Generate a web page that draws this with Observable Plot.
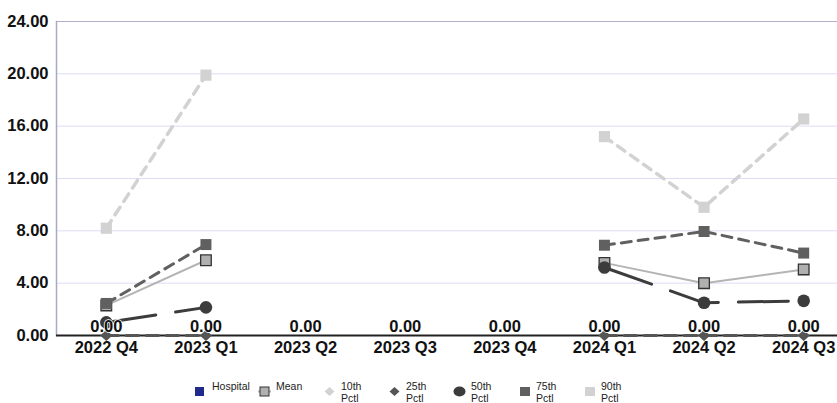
<!DOCTYPE html>
<html>
<head>
<meta charset="utf-8">
<script src="https://cdn.jsdelivr.net/npm/d3@7"></script>
<script src="https://cdn.jsdelivr.net/npm/@observablehq/plot@0.6"></script>
<style>
  html, body { margin: 0; padding: 0; background: #fff; }
  body { width: 837px; height: 403px; overflow: hidden; font-family: "Liberation Sans", Arial, sans-serif; }
  #chart svg { display: block; overflow: hidden; }
  #legend { position: relative; width: 837px; height: 43px; font-size: 10.5px; color: #222; }
  #legend .item { position: absolute; top: 20px; display: flex; align-items: flex-start; }
  #legend .item svg { display: block; margin-top: 6px; margin-right: 4px; }
  #legend .lbl { line-height: 12px; }
</style>
</head>
<body>
<div id="chart"></div>
<div id="legend"></div>
<script>
const quarters = ["2022 Q4", "2023 Q1", "2023 Q2", "2023 Q3", "2023 Q4", "2024 Q1", "2024 Q2", "2024 Q3"];
const hospital = [0, 0, 0, 0, 0, 0, 0, 0];
const meanVals = [2.3, 5.75, null, null, null, 5.55, 4.0, 5.05];
const p10 = [0, 0, null, null, null, 0, 0, 0];
const p25 = [0, 0, null, null, null, 0, 0, 0];
const p50 = [1.0, 2.15, null, null, null, 5.2, 2.5, 2.65];
const p75 = [2.45, 6.95, null, null, null, 6.9, 7.95, 6.3];
const p90 = [8.2, 19.9, null, null, null, 15.2, 9.8, 16.55];
const yTicks = [0, 4, 8, 12, 16, 20, 24];

const rows = arr => quarters.map((q, i) => ({q, v: arr[i]}));
const def = arr => rows(arr).filter(d => d.v != null);

// squat diamond symbol (half-width 6, half-height 5.5 at r = 5.5)
const diamond = {
  draw(ctx, size) {
    const r = Math.sqrt(size / Math.PI);
    const w = r * 1.1, h = r;
    ctx.moveTo(0, -h); ctx.lineTo(w, 0); ctx.lineTo(0, h); ctx.lineTo(-w, 0); ctx.closePath();
  }
};

const FS = 16.5;
const plot = Plot.plot({
  width: 837,
  height: 360,
  marginLeft: 56,
  marginRight: -16,
  marginTop: 21,
  marginBottom: 25,
  style: {fontFamily: "'Liberation Sans', Arial, sans-serif", background: "#fff"},
  x: {type: "point", domain: quarters, padding: 0.5, round: false, label: null},
  y: {domain: [0, 24], label: null},
  marks: [
    Plot.ruleY(yTicks.slice(1), {stroke: "#dcdcf6", strokeWidth: 1}),
    Plot.ruleY([24], {stroke: "#b0b0cc", strokeWidth: 1}),
    Plot.frame({anchor: "left", stroke: "#a8a8c8", strokeWidth: 1.5}),
    Plot.axisY({ticks: yTicks, tickFormat: d => d.toFixed(2), tickSize: 0, tickPadding: 8,
      fontSize: FS, fontWeight: "bold", fill: "#111"}),
    Plot.axisX({tickSize: 0, tickPadding: 6, fontSize: FS, fontWeight: "bold", fill: "#111"}),
    // 90th
    Plot.line(rows(p90), {x: "q", y: "v", stroke: "#d2d2d2", strokeWidth: 3.5, strokeDasharray: "9,7"}),
    Plot.dot(def(p90), {x: "q", y: "v", symbol: "square", r: 6.3, fill: "#d2d2d2"}),
    // mean
    Plot.line(rows(meanVals), {x: "q", y: "v", stroke: "#b4b4b4", strokeWidth: 2}),
    Plot.dot(def(meanVals), {x: "q", y: "v", symbol: "square", r: 6, fill: "#b0b0b0", stroke: "#333", strokeWidth: 1.3}),
    // 75th
    Plot.line(rows(p75), {x: "q", y: "v", stroke: "#606060", strokeWidth: 3, strokeDasharray: "10,7"}),
    Plot.dot(def(p75), {x: "q", y: "v", symbol: "square", r: 6.2, fill: "#606060"}),
    // 50th
    Plot.line(rows(p50), {x: "q", y: "v", stroke: "#3c3c3c", strokeWidth: 3, strokeDasharray: "50,20"}),
    Plot.dot(def(p50), {x: "q", y: "v", r: 6.3, fill: "#3c3c3c"}),
    // 10th
    Plot.dot(def(p10), {x: "q", y: "v", symbol: diamond, r: 5.5, fill: "#d2d2d2"}),
    // axis line
    Plot.ruleY([0], {stroke: "#222", strokeWidth: 2}),
    // 25th
    Plot.line(rows(p25), {x: "q", y: "v", stroke: "#555", strokeWidth: 3, strokeDasharray: "12,8"}),
    Plot.dot(def(p25), {x: "q", y: "v", symbol: diamond, r: 5.5, fill: "#555"}),
    // hospital labels
    Plot.text(rows(hospital), {x: "q", y: "v", text: d => d.v.toFixed(2), lineAnchor: "bottom", dy: -4,
      fontSize: FS, fontWeight: "bold", fill: "#111", stroke: "#fff", strokeWidth: 1.5})
  ]
});
document.getElementById("chart").appendChild(plot);

// legend
const legendItems = [
  {left: 194, label: "Hospital", sym: `<rect x="1" y="1" width="9" height="9" fill="#1f2a8a"/>`},
  {left: 258, label: "Mean", sym: `<line x1="0" y1="5.5" x2="13" y2="5.5" stroke="#b4b4b4" stroke-width="2"/><rect x="2" y="1" width="9" height="9" fill="#b0b0b0" stroke="#333" stroke-width="1"/>`},
  {left: 323, label: "10th<br>Pctl", sym: `<path d="M6.5 1 L11.5 5.5 L6.5 10 L1.5 5.5Z" fill="#d2d2d2"/>`},
  {left: 388, label: "25th<br>Pctl", sym: `<path d="M6.5 1 L11.5 5.5 L6.5 10 L1.5 5.5Z" fill="#555"/>`},
  {left: 453, label: "50th<br>Pctl", sym: `<ellipse cx="6.5" cy="5.5" rx="6" ry="5" fill="#3c3c3c"/>`},
  {left: 518, label: "75th<br>Pctl", sym: `<rect x="2" y="1" width="10" height="9" fill="#606060"/>`},
  {left: 583, label: "90th<br>Pctl", sym: `<rect x="2" y="1" width="10" height="9" fill="#d2d2d2"/>`}
];
const lg = document.getElementById("legend");
for (const it of legendItems) {
  const div = document.createElement("div");
  div.className = "item";
  div.style.left = it.left + "px";
  div.innerHTML = `<svg width="14" height="11">${it.sym}</svg><span class="lbl">${it.label}</span>`;
  lg.appendChild(div);
}
</script>
</body>
</html>
